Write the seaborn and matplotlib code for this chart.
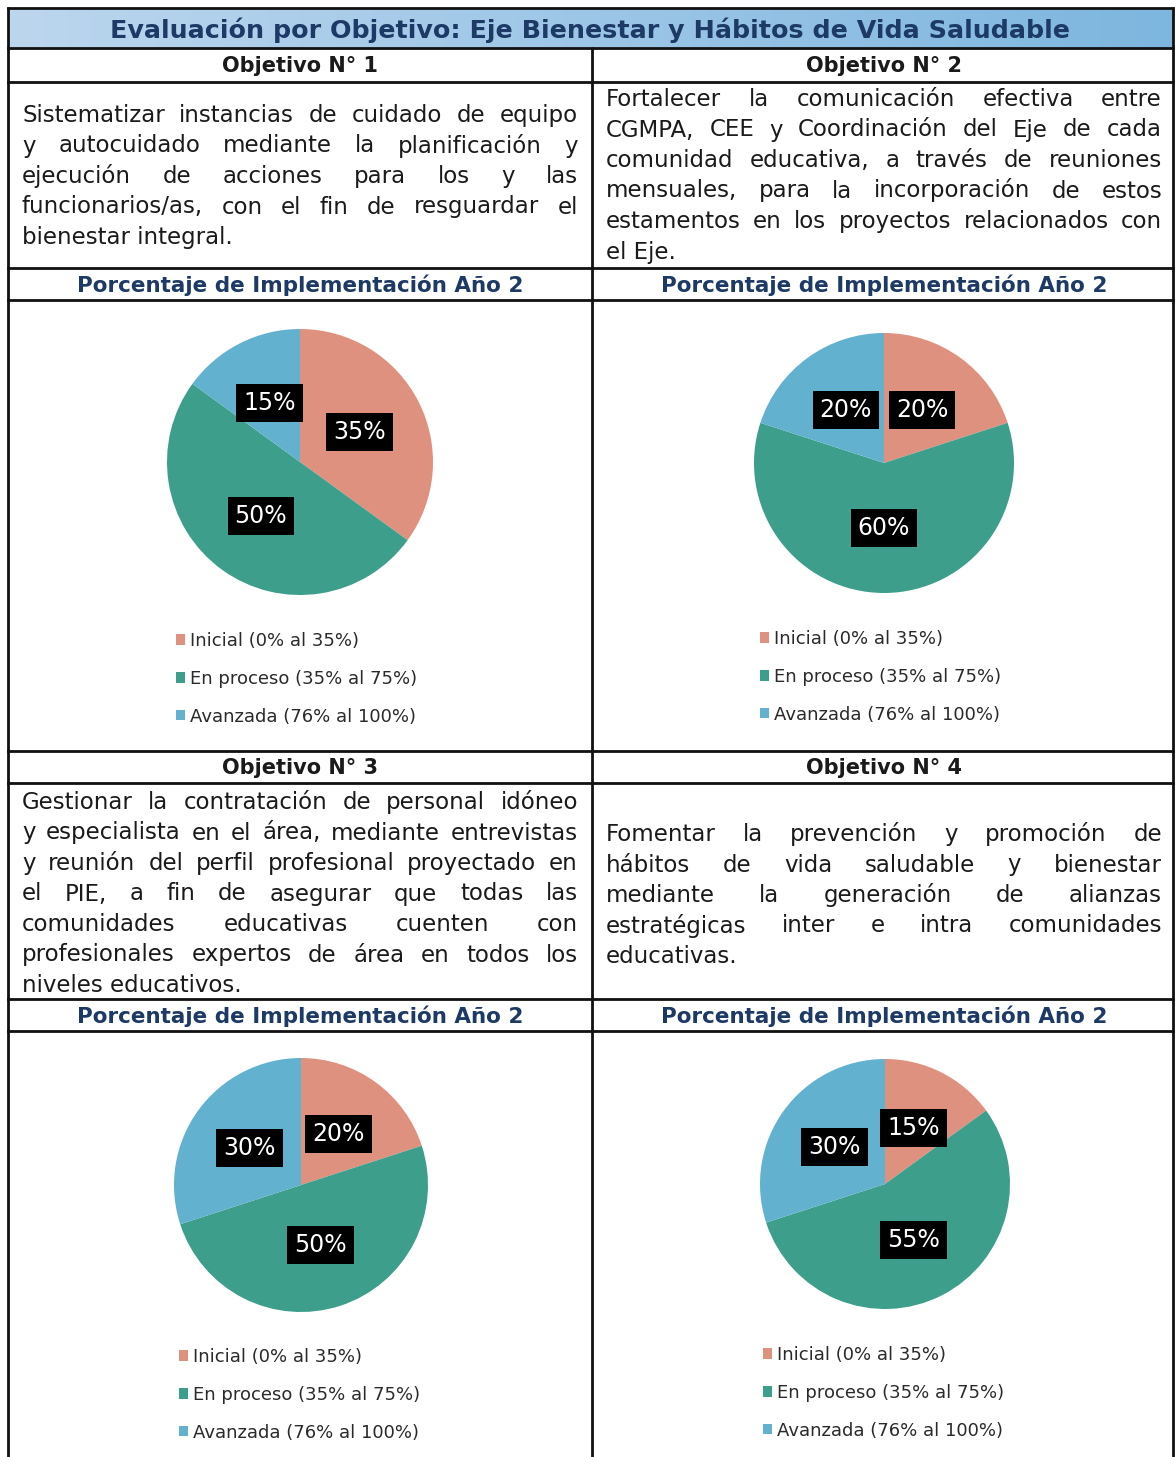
import numpy as np
import matplotlib
matplotlib.use("Agg")
import matplotlib.pyplot as plt
import seaborn as sns
from matplotlib.colors import LinearSegmentedColormap

sns.set_theme(style="white")
plt.rcParams['font.family'] = ['DejaVu Sans']

# ---------------------------------------------------------------
# Datos
# ---------------------------------------------------------------
titulo = "Evaluación por Objetivo: Eje Bienestar y Hábitos de Vida Saludable"
subtitulo = "Porcentaje de Implementación Año 2"
objetivos = ["Objetivo N° 1", "Objetivo N° 2", "Objetivo N° 3", "Objetivo N° 4"]
categorias = ["Inicial (0% al 35%)", "En proceso (35% al 75%)", "Avanzada (76% al 100%)"]

valores_obj1 = [35, 50, 15]
valores_obj2 = [20, 60, 20]
valores_obj3 = [20, 50, 30]
valores_obj4 = [15, 55, 30]

texto_obj1 = [
    "Sistematizar instancias de cuidado de equipo",
    "y autocuidado mediante la planificación y",
    "ejecución de acciones para los y las",
    "funcionarios/as, con el fin de resguardar el",
    "bienestar integral.",
]
texto_obj2 = [
    "Fortalecer la comunicación efectiva entre",
    "CGMPA, CEE y Coordinación del Eje de cada",
    "comunidad educativa, a través de reuniones",
    "mensuales, para la incorporación de estos",
    "estamentos en los proyectos relacionados con",
    "el Eje.",
]
texto_obj3 = [
    "Gestionar la contratación de personal idóneo",
    "y especialista en el área, mediante entrevistas",
    "y reunión del perfil profesional proyectado en",
    "el PIE, a fin de asegurar que todas las",
    "comunidades educativas cuenten con",
    "profesionales expertos de área en todos los",
    "niveles educativos.",
]
texto_obj4 = [
    "Fomentar la prevención y promoción de",
    "hábitos de vida saludable y bienestar",
    "mediante la generación de alianzas",
    "estratégicas inter e intra comunidades",
    "educativas.",
]

colores = ["#df917f", "#3c9e8b", "#62b1cf"]
azul_titulo = "#1d3a66"

# ---------------------------------------------------------------
# Lienzo (1 unidad = 1 pixel)
# ---------------------------------------------------------------
W, H = 1175, 1457
fig = plt.figure(figsize=(W / 100, H / 100), dpi=100)
fig.patch.set_facecolor("white")
ax = fig.add_axes([0, 0, 1, 1])

X0, XM, X1 = 8, 592, 1173
filas = [8, 48, 82, 268, 300, 751, 783, 999, 1031]

# franja del título con degradado
cmap_tit = LinearSegmentedColormap.from_list("tit", ["#bcd6ee", "#7db6df"])
ax.imshow(np.linspace(0, 1, 256).reshape(1, -1), extent=(X0, X1, filas[1], filas[0]),
          cmap=cmap_tit, aspect="auto", zorder=0)
ax.set_xlim(0, W)
ax.set_ylim(H, 0)
ax.axis("off")

# líneas de la tabla
for y in filas:
    ax.plot([X0, X1], [y, y], color="#111111", lw=2, solid_capstyle="projecting")
ax.plot([X0, X0], [filas[0], H], color="#111111", lw=2)
ax.plot([X1, X1], [filas[0], H], color="#111111", lw=2)
ax.plot([XM, XM], [filas[1], H], color="#111111", lw=2)

ax.text((X0 + X1) / 2, 30, titulo, ha="center", va="center", fontsize=18.3,
        fontweight="bold", color=azul_titulo)

col_centros = [300, 884]
for i, nombre in enumerate(objetivos):
    fila = i // 2
    cx = col_centros[i % 2]
    y_obj = [66, 768][fila]
    y_sub = [285, 1016][fila]
    ax.text(cx, y_obj, nombre, ha="center", va="center", fontsize=15,
            fontweight="bold", color="#1a1a1a")
    ax.text(cx, y_sub, subtitulo, ha="center", va="center", fontsize=15.5,
            fontweight="bold", color=azul_titulo)

# ---------------------------------------------------------------
# Párrafos justificados
# ---------------------------------------------------------------
renderer = fig.canvas.get_renderer()


def medir(s, tam):
    t = ax.text(0, 0, s, fontsize=tam)
    w = t.get_window_extent(renderer).width
    t.remove()
    return w


# tamaño de letra común que permite justificar todas las líneas
ANCHO_COL = 556
lineas_just = [l for txt in (texto_obj1, texto_obj2, texto_obj3, texto_obj4) for l in txt[:-1]]
TAM = min(16.5, 10 * min(ANCHO_COL / medir(l, 10) for l in lineas_just) * 0.98)


def parrafo(lineas, x_izq, y0, paso=30.5):
    for i, linea in enumerate(lineas):
        y = y0 + i * paso + 7  # línea base
        palabras = linea.split()
        if i == len(lineas) - 1 or len(palabras) == 1:
            ax.text(x_izq, y, linea, fontsize=TAM, va="baseline", color="#1a1a1a")
            continue
        anchos = [medir(p, TAM) for p in palabras]
        hueco = (ANCHO_COL - sum(anchos)) / (len(palabras) - 1)
        x = x_izq
        for p, w in zip(palabras, anchos):
            ax.text(x, y, p, fontsize=TAM, va="baseline", color="#1a1a1a")
            x += w + hueco


parrafo(texto_obj1, 22, 115)
parrafo(texto_obj2, 606, 99)
parrafo(texto_obj3, 22, 802)
parrafo(texto_obj4, 606, 834)

# ---------------------------------------------------------------
# Tortas
# ---------------------------------------------------------------
tortas = [
    (valores_obj1, 300, 462, 133, (176, 632)),
    (valores_obj2, 884, 463, 130, (760, 630)),
    (valores_obj3, 301, 1185, 127, (179, 1348)),
    (valores_obj4, 885, 1184, 125, (763, 1346)),
]

for valores, cx, cy, r, (lx, ly) in tortas:
    pax = fig.add_axes([(cx - r) / W, 1 - (cy + r) / H, 2 * r / W, 2 * r / H])
    wedges, _, autotexts = pax.pie(
        valores, colors=colores, startangle=90, counterclock=False,
        autopct=lambda p: f"{p:.0f}%", pctdistance=0.5,
        wedgeprops=dict(linewidth=0),
        textprops=dict(color="white", fontsize=17),
    )
    for t in autotexts:
        t.set_bbox(dict(boxstyle="square,pad=0.3", fc="black", ec="none"))
    pax.set_xlim(-1, 1)
    pax.set_ylim(-1, 1)
    pax.axis("off")

    fig.legend(wedges, categorias, loc="upper left", bbox_to_anchor=(lx, ly),
               bbox_transform=ax.transData, frameon=False, fontsize=13,
               handlelength=0.5, handleheight=0.5, handletextpad=0.25,
               labelspacing=1.1, borderpad=0, borderaxespad=0,
               labelcolor="#2a2a2a")

fig.savefig("out.png", dpi=100, facecolor="white")
